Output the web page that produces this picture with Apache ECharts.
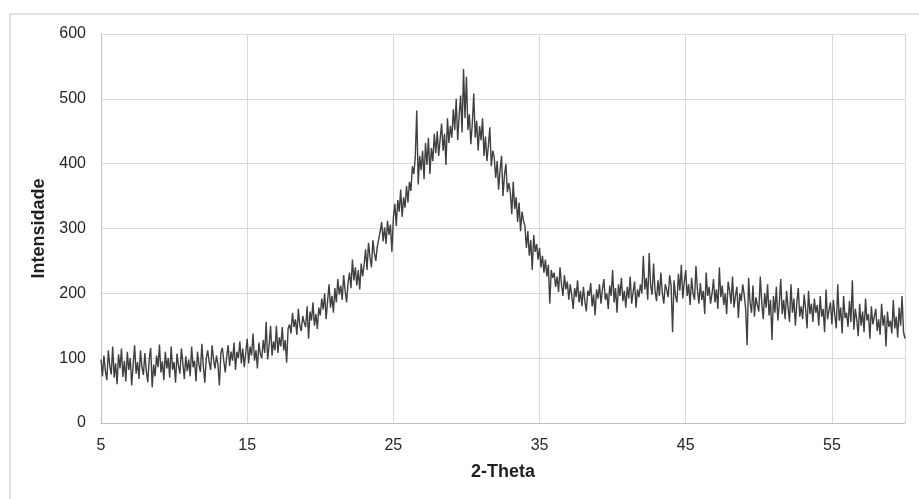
<!DOCTYPE html>
<html>
<head>
<meta charset="utf-8">
<script src="https://cdn.jsdelivr.net/npm/echarts@6/dist/echarts.min.js"></script>
<style>
html,body{margin:0;padding:0;background:#fff;}
#chart{width:919px;height:499px;}
</style>
</head>
<body>
<div id="chart"></div>
<script>
// 2-Theta sampling grid (degrees)
const twoThetaStart = 5;
const twoThetaStep = 0.1;
const xTicks = [5, 15, 25, 35, 45, 55];
const yTicks = [0, 100, 200, 300, 400, 500, 600];

// Intensity readings, 10 per degree
const int05to10 = [
  98, 72, 104, 80, 66, 112, 88, 75, 118, 70,
  92, 60, 106, 84, 115, 71, 96, 64, 110, 82,
  100, 58, 90, 120, 76, 94, 68, 112, 86, 74,
  108, 80, 63, 99, 116, 55, 90, 72, 104, 86,
  121, 78, 95, 66, 110, 84, 100, 70, 118, 82
];
const int10to15 = [
  94, 62, 107, 88, 76, 115, 92, 68, 103, 80,
  98, 72, 118, 86, 96, 64, 110, 90, 79, 122,
  88, 62, 100, 112, 94, 82, 120, 98, 84, 104,
  90, 58, 108, 116, 96, 78, 102, 120, 88, 110,
  96, 124, 82, 110, 100, 126, 92, 115, 86, 108
];
const int15to20 = [
  130, 92, 118, 104, 138, 96, 112, 84, 124, 106,
  100, 128, 108, 156, 98, 120, 150, 104, 126, 112,
  150, 108, 132, 118, 148, 112, 128, 93, 146, 152,
  138, 170, 148, 160, 136, 176, 150, 142, 165, 155,
  148, 180, 130, 172, 158, 186, 150, 168, 145, 178
];
const int20to25 = [
  166, 192, 175, 200, 160, 188, 214, 178, 196, 170,
  208, 186, 222, 198, 212, 190, 228, 204, 186, 216,
  232, 208, 252, 220, 240, 212, 236, 206, 246, 226,
  244, 268, 236, 278, 256, 240, 282, 262, 250, 272,
  270, 296, 310, 280, 302, 276, 312, 290, 306, 264
];
const int25to30 = [
  316, 338, 304, 344, 326, 360, 318, 348, 332, 366,
  340, 372, 358, 396, 384, 410, 482, 368, 412, 390,
  420, 376, 432, 398, 440, 384, 424, 404, 446, 416,
  450, 412, 438, 462, 420, 446, 398, 470, 432, 458,
  440, 484, 452, 500, 436, 474, 505, 448, 546, 470
];
const int30to35 = [
  534, 452, 476, 430, 462, 508, 440, 466, 420, 458,
  436, 470, 412, 442, 404, 428, 456, 396, 420, 410,
  378, 404, 360, 390, 412, 350, 382, 400, 356, 370,
  356, 322, 372, 330, 348, 310, 340, 296, 326, 312,
  304, 270, 296, 258, 282, 236, 290, 264, 276, 252
];
const int35to40 = [
  270, 240, 258, 232, 252, 226, 244, 184, 236, 224,
  232, 210, 226, 202, 240, 214, 196, 228, 206, 218,
  190, 214, 198, 176, 208, 194, 220, 186, 204, 180,
  210, 188, 172, 204, 196, 216, 180, 198, 166, 206,
  192, 214, 184, 206, 222, 190, 200, 176, 212, 196
];
const int40to45 = [
  236, 186, 208, 170, 214, 196, 224, 188, 204, 178,
  210, 192, 226, 184, 202, 218, 178, 206, 194, 214,
  200, 258, 206, 224, 190, 262, 212, 198, 246, 204,
  188, 220, 196, 232, 200, 184, 214, 206, 194, 228,
  212, 140, 220, 196, 186, 230, 204, 244, 192, 218
];
const int45to50 = [
  236, 196, 214, 182, 224, 200, 190, 242, 206, 184,
  216, 190, 204, 168, 232, 196, 210, 184, 200, 222,
  186, 206, 176, 240, 194, 212, 182, 200, 168, 218,
  204, 184, 226, 178, 196, 210, 162, 200, 188, 214,
  198, 176, 120, 224, 186, 170, 212, 164, 194, 182
];
const int50to55 = [
  172, 226, 186, 160, 200, 178, 214, 166, 190, 128,
  196, 170, 210, 158, 184, 222, 168, 190, 160, 204,
  178, 156, 214, 170, 192, 150, 186, 208, 164, 180,
  160, 198, 176, 146, 204, 168, 184, 156, 192, 170,
  182, 150, 196, 164, 176, 140, 206, 160, 174, 186
];
const int55to60 = [
  152, 190, 166, 146, 214, 158, 178, 138, 196, 162,
  170, 148, 188, 156, 220, 144, 176, 160, 134, 184,
  150, 172, 140, 192, 158, 168, 130, 180, 152, 164,
  176, 142, 160, 136, 184, 150, 166, 118, 172, 148,
  158, 138, 190, 146, 164, 132, 178, 150, 196, 140,
  130
];

const intensity = [].concat(int05to10, int10to15, int15to20, int20to25, int25to30,
  int30to35, int35to40, int40to45, int45to50, int50to55, int55to60);
const points = intensity.map((v, i) => [+(twoThetaStart + i * twoThetaStep).toFixed(2), v]);

const chart = echarts.init(document.getElementById('chart'), null, {renderer: 'canvas'});
const fontFam = '"Liberation Sans", Arial, sans-serif';
chart.setOption({
  animation: false,
  backgroundColor: '#fff',
  graphic: [{
    type: 'rect',
    shape: {x: 10, y: 14, width: 1000, height: 1000},
    style: {fill: 'none', stroke: '#d9d9d9', lineWidth: 1.5},
    silent: true, z: -10
  }],
  grid: {left: 101, right: 14, top: 34, bottom: 76, containLabel: false},
  xAxis: {
    type: 'value',
    min: xTicks[0], max: 60, interval: 10,
    name: '2-Theta', nameLocation: 'middle', nameGap: 40,
    nameTextStyle: {fontFamily: fontFam, fontSize: 18, fontWeight: 'bold', color: '#1f1f1f'},
    axisLine: {show: true, lineStyle: {color: '#bfbfbf', width: 1}},
    axisTick: {show: false},
    axisLabel: {
      fontFamily: fontFam, fontSize: 16, color: '#262626', margin: 15,
      showMaxLabel: false,
      formatter: v => xTicks.indexOf(v) >= 0 ? String(v) : ''
    },
    splitLine: {show: true, lineStyle: {color: '#d9d9d9', width: 1}}
  },
  yAxis: {
    type: 'value',
    min: yTicks[0], max: yTicks[yTicks.length - 1], interval: 100,
    name: 'Intensidade', nameLocation: 'middle', nameGap: 49, nameRotate: 90,
    nameTextStyle: {fontFamily: fontFam, fontSize: 18, fontWeight: 'bold', color: '#1f1f1f'},
    axisLine: {show: true, lineStyle: {color: '#bfbfbf', width: 1}},
    axisTick: {show: false},
    axisLabel: {fontFamily: fontFam, fontSize: 16, color: '#262626', margin: 15},
    splitLine: {show: true, lineStyle: {color: '#d9d9d9', width: 1}}
  },
  series: [{
    type: 'line',
    data: points,
    showSymbol: false,
    symbol: 'none',
    sampling: null,
    lineStyle: {color: '#404040', width: 1.4},
    z: 3
  }]
});
</script>
</body>
</html>
